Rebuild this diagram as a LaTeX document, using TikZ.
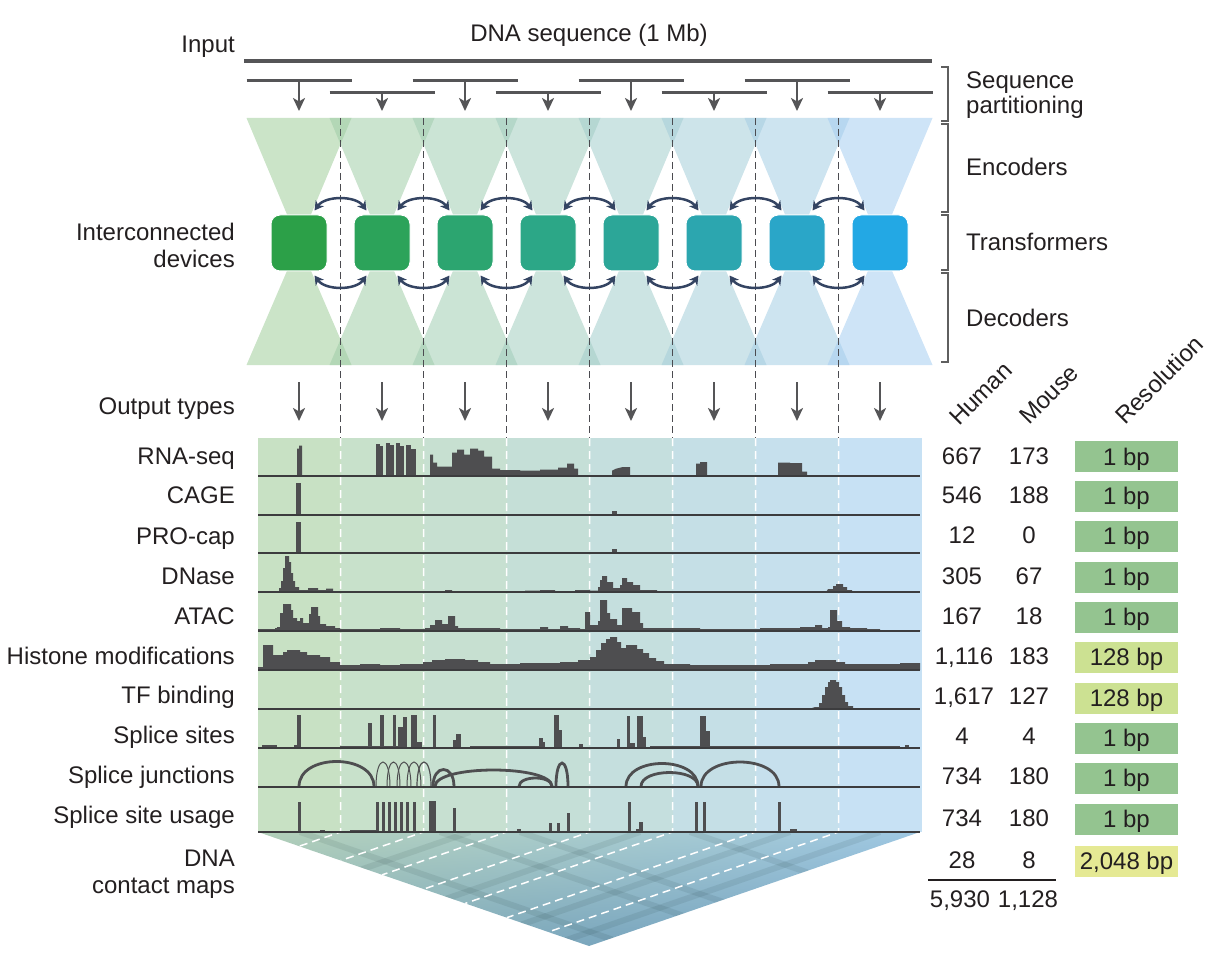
\documentclass[tikz,border=0pt]{standalone}
\usepackage{fontspec}
\setmainfont{Liberation Sans}
\usetikzlibrary{arrows.meta,shadings}
\definecolor{txt}{RGB}{35,31,32}
\definecolor{linec}{RGB}{85,85,87}
\definecolor{dashc}{RGB}{75,75,80}
\definecolor{navy}{RGB}{52,68,98}
\definecolor{sigc}{RGB}{78,78,80}
\definecolor{basec}{RGB}{60,60,62}
\definecolor{brc}{RGB}{95,95,95}
\definecolor{resG}{RGB}{148,196,144}
\definecolor{resY}{RGB}{204,225,146}
\definecolor{resYY}{RGB}{229,233,148}
\definecolor{mapUL}{RGB}{178,207,184}
\definecolor{mapUR}{RGB}{158,199,226}
\definecolor{mapLL}{RGB}{132,172,178}
\definecolor{mapLR}{RGB}{112,160,200}
\definecolor{dev0}{RGB}{44,160,72}
\definecolor{dev1}{RGB}{44,163,90}
\definecolor{dev2}{RGB}{44,165,112}
\definecolor{dev3}{RGB}{44,167,135}
\definecolor{dev4}{RGB}{44,166,152}
\definecolor{dev5}{RGB}{44,166,175}
\definecolor{dev6}{RGB}{42,166,200}
\definecolor{dev7}{RGB}{35,168,228}
\definecolor{tri0}{RGB}{160,205,155}
\definecolor{tri1}{RGB}{161,205,167}
\definecolor{tri2}{RGB}{161,205,179}
\definecolor{tri3}{RGB}{162,205,191}
\definecolor{tri4}{RGB}{163,205,204}
\definecolor{tri5}{RGB}{164,205,216}
\definecolor{tri6}{RGB}{164,205,228}
\definecolor{tri7}{RGB}{165,205,240}
\definecolor{pan0}{RGB}{200,225,196}
\definecolor{pan1}{RGB}{200,225,203}
\definecolor{pan2}{RGB}{199,224,209}
\definecolor{pan3}{RGB}{197,223,215}
\definecolor{pan4}{RGB}{197,223,222}
\definecolor{pan5}{RGB}{197,223,230}
\definecolor{pan6}{RGB}{198,224,237}
\definecolor{pan7}{RGB}{199,225,244}
\newcommand\sbar[3]{\fill[sigc] (#1,0) rectangle (#2,-#3);}
\newcommand\sarc[4]{\draw[sigc, line width=#4] (#1,0) .. controls (#1,-1.333*#3) and (#2,-1.333*#3) .. (#2,0);}
\begin{document}
\begin{tikzpicture}[x=1pt,y=-1pt,
  lab/.style={font=\fontsize{24}{28}\selectfont, text=txt, inner sep=0pt},
  device/.style={minimum size=56pt, rounded corners=9pt, draw=white, line width=1pt, inner sep=0pt},
  resbox/.style={minimum width=103pt, minimum height=31pt, inner sep=0pt, text height=17pt, text depth=0pt, font=\fontsize{24}{28}\selectfont, text=txt},
  parrow/.style={linec, line width=2.5pt, -{Stealth[length=13pt,width=12pt,inset=3.5pt]}},
  darrow/.style={navy, line width=2.5pt, {Stealth[length=9pt,width=10pt,inset=2.5pt]}-{Stealth[length=9pt,width=10pt,inset=2.5pt]}},
  bracket/.style={brc, line width=2pt}]
\useasboundingbox (0,0) rectangle (1226,968);

% ---------------- top: input sequence and partitioning
\node[lab, anchor=base] (dnaseq) at (589,41.5) {DNA sequence (1 Mb)};
\node[lab, anchor=base east] (input) at (235,52.5) {Input};
\draw[linec, line width=4pt] (244,61) -- (932,61);
\foreach \i in {0,...,7}{
  \pgfmathsetmacro\c{299+83*\i}
  \pgfmathsetmacro\yy{mod(\i,2)==0 ? 81 : 93}
  \draw[linec, line width=3pt] (\c-52.5,\yy) -- (\c+52.5,\yy);
  \coordinate (pa\i) at (\c,\yy);
  \coordinate (pb\i) at (\c,111);
  \draw[parrow] (pa\i) -- (pb\i);
}

% ---------------- encoders / decoders
\foreach \i in {0,...,7}{
  \pgfmathsetmacro\c{299+83*\i}
  \fill[fill=tri\i, fill opacity=0.55] (\c-52.5,118) -- (\c+52.5,118) -- (\c,243) -- cycle;
  \fill[fill=tri\i, fill opacity=0.55] (\c,243) -- (\c-52.5,365) -- (\c+52.5,365) -- cycle;
}
\foreach \j in {0,...,6}{
  \pgfmathsetmacro\b{340.5+83*\j}
  \draw[dashc, line width=1.5pt, dash pattern=on 7pt off 4pt] (\b,118) -- (\b,438);
}
\foreach \i in {0,...,7}{
  \pgfmathsetmacro\c{299+83*\i}
  \node[device, fill=dev\i] (dev\i) at (\c,243) {};
}
\foreach \i [evaluate=\i as \n using int(\i+1)] in {0,...,6}{
  \draw[darrow] ([shift={(-13,-4)}]dev\i.north east) .. controls +(11,-15) and +(-11,-15) .. ([shift={(13,-4)}]dev\n.north west);
  \draw[darrow] ([shift={(-13,4)}]dev\i.south east) .. controls +(11,15) and +(-11,15) .. ([shift={(13,4)}]dev\n.south west);
}
\node[lab, anchor=base east] (ic1) at (235,240.5) {Interconnected};
\node[lab, anchor=base east] (ic2) at (235,267.5) {devices};

% ---------------- right brackets
\draw[bracket] (941,67) -- (948,67) -- (948,121) -- (941,121);
\draw[bracket] (941,124) -- (948,124) -- (948,212) -- (941,212);
\draw[bracket] (941,215) -- (948,215) -- (948,270) -- (941,270);
\draw[bracket] (941,273) -- (948,273) -- (948,362) -- (941,362);
\node[lab, anchor=base west] (sp1) at (966,88.5) {Sequence};
\node[lab, anchor=base west] (sp2) at (966,114) {partitioning};
\node[lab, anchor=base west] (enc) at (966,175.5) {Encoders};
\node[lab, anchor=base west] (trf) at (966,250.5) {Transformers};
\node[lab, anchor=base west] (dec) at (966,326.5) {Decoders};

% ---------------- output types
\node[lab, anchor=base east] (otypes) at (235,414.5) {Output types};
\foreach \i in {0,...,7}{
  \pgfmathsetmacro\c{299+83*\i}
  \coordinate (oa\i) at (\c,382);
  \coordinate (ob\i) at (\c,421);
  \draw[parrow] (oa\i) -- (ob\i);
}

% ---------------- tracks panel
\foreach \i in {0,...,7}{
  \pgfmathsetmacro\c{299+83*\i}
  \fill[pan\i] (\c-41.5,438) rectangle (\c+41.5,832);
}

% contact map
\begin{scope}
  \clip (258,832) -- (920,832) -- (589,946) -- cycle;
  \shade[upper left=mapUL, upper right=mapUR, lower left=mapLL, lower right=mapLR] (258,832) rectangle (920,946);
  \begin{scope}[line width=6pt, draw=black!80!teal, opacity=0.08]
    \draw (300,832) -- +(331,114);
    \draw (440,832) -- +(331,114);
    \draw (520,832) -- +(331,114);
    \draw (690,832) -- +(331,114);
    \draw (470,832) -- +(-331,114);
    \draw (640,832) -- +(-331,114);
    \draw (790,832) -- +(-331,114);
    \draw (880,832) -- +(-331,114);
  \end{scope}
\end{scope}
\foreach \j in {0,...,6}{
  \pgfmathsetmacro\b{340.5+83*\j}
  \pgfmathsetmacro\ex{258+(\b-258)/2}
  \pgfmathsetmacro\ey{832+(\b-258)/662*114}
  \draw[white, line width=1.5pt, dash pattern=on 8pt off 5pt] (\b,438) -- (\b,832) -- (\ex,\ey);
}

% RNA-seq
\begin{scope}[shift={(0,475.7)}]
  \fill[sigc] (297,0) -- (297,-27) -- (299,-27) -- (299,-30) -- (302,-30) -- (302,0) -- cycle;
  \sbar{376}{380}{32}\sbar{380}{383}{30}\sbar{386}{390}{33}\sbar{390}{394}{31}
  \sbar{396}{400}{33}\sbar{400}{404}{30}\sbar{406}{411}{31}\sbar{411}{416}{27}
  \fill[sigc] (430,0) -- (430,-21) -- (433,-21) -- (433,-13) -- (437,-13) -- (437,-9) -- (452,-9) -- (452,-23) -- (457,-23) -- (457,-26) -- (464,-26) -- (464,-21) -- (470,-21) -- (470,-27) -- (478,-27) -- (478,-25) -- (484,-25) -- (484,-19) -- (492,-19) -- (492,-7) -- (500,-7) -- (500,-5.5) -- (520,-5.5) -- (520,-5) -- (540,-5) -- (540,-6) -- (558,-6) -- (558,-8) -- (567,-8) -- (567,-12) -- (574,-12) -- (574,-7) -- (578,-7) -- (578,0) -- cycle;
  \fill[sigc] (612,0) -- (612,-5) -- (616,-7) -- (622,-8.5) -- (630,-8.5) -- (630,0) -- cycle;
  \fill[sigc] (696,0) -- (696,-12) -- (700,-12) -- (700,-13.5) -- (707,-13.5) -- (707,0) -- cycle;
  \fill[sigc] (778,0) -- (778,-13) -- (790,-13) -- (790,-12.5) -- (802,-12.5) -- (802,-4) -- (807,-4) -- (807,0) -- cycle;
  \draw[basec, line width=2pt] (258,0) -- (920,0);
\end{scope}
\node[lab, anchor=base east] (l1) at (235,464.5) {RNA-seq};

% CAGE
\begin{scope}[shift={(0,514.5)}]
  \sbar{296}{300.5}{32}\sbar{612}{617}{4}
  \draw[basec, line width=2pt] (258,0) -- (920,0);
\end{scope}
\node[lab, anchor=base east] (l2) at (235,503.5) {CAGE};

% PRO-cap
\begin{scope}[shift={(0,553.3)}]
  \sbar{296}{300.5}{31}\sbar{612}{617}{4}
  \draw[basec, line width=2pt] (258,0) -- (920,0);
\end{scope}
\node[lab, anchor=base east] (l3) at (235,544.5) {PRO-cap};

% DNase
\begin{scope}[shift={(0,592.2)}]
  \fill[sigc] (275,0) -- (275,-1) -- (279,-1) -- (279,-4) -- (281,-4) -- (281,-11) -- (283,-11) -- (283,-24) -- (285,-24) -- (285,-36) -- (289,-36) -- (289,-30) -- (291,-30) -- (291,-19) -- (293,-19) -- (293,-11) -- (295,-11) -- (295,-5) -- (299,-5) -- (299,-2) -- (308,-2) -- (308,-4) -- (318,-4) -- (318,-2) -- (326,-2) -- (326,-3.5) -- (333,-3.5) -- (333,-1) -- (340,-1) -- (340,0) -- cycle;
  \fill[sigc] (430,0) -- (430,-1) -- (445,-1) -- (445,-2) -- (452,-2) -- (452,-1) -- (460,-1) -- (460,0) -- cycle;
  \fill[sigc] (525,0) -- (525,-1.5) -- (540,-1.5) -- (540,-2) -- (555,-2) -- (555,-1) -- (575,-1) -- (575,-2) -- (590,-2) -- (590,0) -- cycle;
  \fill[sigc] (585,0) -- (585,-1.5) -- (598,-1.5) -- (598,-5) -- (600,-5) -- (600,-12) -- (602,-12) -- (602,-16) -- (607,-16) -- (607,-10) -- (613,-10) -- (613,-4) -- (620,-4) -- (620,-7) -- (622,-7) -- (622,-14) -- (627,-14) -- (627,-10) -- (633,-10) -- (633,-7) -- (640,-7) -- (640,-2) -- (657,-2) -- (657,0) -- cycle;
  \fill[sigc] (826,0) -- (828,-3) -- (833,-3) -- (833,-6) -- (836,-6) -- (836,-8) -- (843,-8) -- (843,-5) -- (847,-5) -- (847,-2) -- (852,-2) -- (852,0) -- cycle;
  \draw[basec, line width=2pt] (258,0) -- (920,0);
\end{scope}
\node[lab, anchor=base east] (l4) at (235,584.5) {DNase};

% ATAC
\begin{scope}[shift={(0,631.2)}]
  \fill[sigc] (258,0) -- (258,-2) -- (275,-2) -- (275,-3) -- (340,-3) -- (340,-2) -- (380,-2) -- (380,-3) -- (400,-3) -- (400,-2) -- (425,-2) -- (425,-3) -- (500,-3) -- (500,-2) -- (540,-2) -- (540,-4) -- (548,-4) -- (548,-2) -- (560,-2) -- (560,-5) -- (568,-5) -- (568,-3) -- (580,-3) -- (580,-2) -- (660,-2) -- (660,-3) -- (700,-3) -- (700,-2) -- (760,-2) -- (760,-3) -- (800,-3) -- (800,-4) -- (815,-4) -- (815,-6) -- (822,-6) -- (822,-3) -- (860,-3) -- (860,-2) -- (880,-2) -- (880,-1) -- (920,-1) -- (920,0) -- cycle;
  \fill[sigc] (277,0) -- (277,-4) -- (280,-4) -- (280,-18) -- (283,-18) -- (283,-27) -- (291,-27) -- (291,-21) -- (293,-21) -- (293,-13) -- (297,-13) -- (297,-10) -- (300,-10) -- (300,-13) -- (303,-13) -- (303,-8) -- (309,-8) -- (309,-17) -- (311,-17) -- (311,-24) -- (318,-24) -- (318,-15) -- (320,-15) -- (320,-7) -- (326,-7) -- (326,-5) -- (335,-5) -- (335,0) -- cycle;
  \fill[sigc] (430,0) -- (430,-6) -- (435,-6) -- (435,-11) -- (442,-11) -- (442,-7) -- (448,-7) -- (448,-15) -- (455,-15) -- (455,-5) -- (458,-5) -- (458,0) -- cycle;
  \fill[sigc] (585,0) -- (585,-19) -- (590,-19) -- (590,-6) -- (598,-6) -- (598,-10) -- (600,-10) -- (600,-31) -- (607,-31) -- (607,-18) -- (610,-18) -- (610,-12) -- (617,-12) -- (617,-6) -- (622,-6) -- (622,-23) -- (632,-23) -- (632,-19) -- (640,-19) -- (640,-8) -- (643,-8) -- (643,-3) -- (665,-3) -- (665,0) -- cycle;
  \fill[sigc] (828,0) -- (828,-4) -- (830,-4) -- (830,-21) -- (837,-21) -- (837,-10) -- (842,-10) -- (842,-4) -- (850,-4) -- (850,-3) -- (867,-3) -- (867,0) -- cycle;
  \draw[basec, line width=2pt] (258,0) -- (920,0);
\end{scope}
\node[lab, anchor=base east] (l5) at (235,624.5) {ATAC};

% Histone modifications
\begin{scope}[shift={(0,670.2)}]
  \fill[sigc] (258,0) -- (258,-3) -- (263,-3) -- (263,-25) -- (273,-25) -- (273,-15) -- (283,-15) -- (283,-18) -- (287,-18) -- (287,-20) -- (300,-20) -- (300,-18) -- (307,-18) -- (307,-15) -- (320,-15) -- (320,-13) -- (330,-13) -- (330,-8) -- (340,-8) -- (340,-5) -- (360,-5) -- (360,-6) -- (380,-6) -- (380,-5) -- (400,-5) -- (400,-6) -- (423,-6) -- (423,-8) -- (432,-8) -- (432,-10) -- (445,-10) -- (445,-11) -- (465,-11) -- (465,-10) -- (478,-10) -- (478,-8) -- (490,-8) -- (490,-6) -- (520,-6) -- (520,-7) -- (560,-7) -- (560,-8) -- (578,-8) -- (578,-10) -- (590,-10) -- (590,-13) -- (596,-13) -- (596,-20) -- (601,-20) -- (601,-27) -- (606,-27) -- (606,-31) -- (610,-31) -- (610,-33) -- (617,-33) -- (617,-28) -- (621,-28) -- (621,-22) -- (626,-22) -- (626,-25) -- (637,-25) -- (637,-21) -- (643,-21) -- (643,-17) -- (649,-17) -- (649,-12) -- (656,-12) -- (656,-9) -- (664,-9) -- (664,-6) -- (690,-6) -- (690,-5) -- (770,-5) -- (770,-6) -- (808,-6) -- (808,-8) -- (815,-8) -- (815,-10) -- (836,-10) -- (836,-8) -- (845,-8) -- (845,-6) -- (900,-6) -- (900,-7) -- (920,-7) -- (920,0) -- cycle;
  \draw[basec, line width=2pt] (258,0) -- (920,0);
\end{scope}
\node[lab, anchor=base east] (l6) at (235,664.5) {Histone modifications};

% TF binding
\begin{scope}[shift={(0,709)}]
  \sbar{290}{340}{1.5}\sbar{523}{600}{1.2}\sbar{600}{670}{1.5}
  \fill[sigc] (795,0) -- (795,-1) -- (812,-1) -- (815,-2) -- (819,-2) -- (819,-6) -- (822,-6) -- (822,-14) -- (825,-14) -- (825,-22) -- (828,-22) -- (828,-27) -- (830,-27) -- (830,-29) -- (836,-29) -- (836,-27) -- (839,-27) -- (839,-22) -- (842,-22) -- (842,-14) -- (845,-14) -- (845,-7) -- (848,-7) -- (848,-3) -- (853,-3) -- (853,0) -- cycle;
  \draw[basec, line width=2pt] (258,0) -- (920,0);
\end{scope}
\node[lab, anchor=base east] (l7) at (235,703.5) {TF binding};

% Splice sites
\begin{scope}[shift={(0,747.5)}]
  \sbar{262}{277}{2.5}\sbar{297}{300.5}{33}\sbar{294}{297}{3}
  \sbar{368}{372}{24.5}\sbar{380}{383.5}{32.5}\sbar{393}{396}{32.5}
  \sbar{398}{405}{21}\sbar{403}{406.5}{31}\sbar{411}{417}{32.5}\sbar{417}{422}{6}
  \sbar{433}{436}{32.5}\sbar{453}{457}{7.5}\sbar{456}{461}{13.5}
  \sbar{539}{543}{10}\sbar{543}{545}{6}\sbar{554}{559}{32.5}\sbar{559}{562}{17.5}
  \sbar{579}{583}{4}\sbar{617}{620}{8.5}\sbar{627}{630}{32}\sbar{630}{635}{5}
  \sbar{637}{643}{32}\sbar{642}{646}{11}\sbar{700}{706}{32}\sbar{705}{710}{17}
  \sbar{340}{400}{1.2}\sbar{470}{540}{1.2}\sbar{650}{900}{1.2}\sbar{905}{909}{3}
  \draw[basec, line width=2pt] (258,0) -- (920,0);
\end{scope}
\node[lab, anchor=base east] (l8) at (235,743.5) {Splice sites};

% Splice junctions
\begin{scope}[shift={(0,786.5)}]
  \sarc{299}{374}{25}{2.8pt}
  \sarc{376}{390}{24.5}{1pt}\sarc{387}{400}{24.5}{1pt}\sarc{397}{411}{24.5}{1pt}
  \sarc{407}{421}{24.5}{1pt}\sarc{417}{431}{24.5}{1.2pt}
  \sarc{433}{454}{17}{2.8pt}\sarc{435}{552}{16.5}{2.8pt}\sarc{519}{552}{8.5}{2.8pt}
  \sarc{556}{568}{23.5}{2.8pt}
  \sarc{626}{698}{23}{2.8pt}\sarc{641}{698}{14}{2.8pt}\sarc{701}{779}{24.5}{2.8pt}
  \draw[basec, line width=2pt] (258,0) -- (920,0);
\end{scope}
\node[lab, anchor=base east] (l9) at (235,783.5) {Splice junctions};

% Splice site usage
\begin{scope}[shift={(0,831.5)}]
  \sbar{298}{301}{30}\sbar{320}{325}{2}\sbar{350}{376}{1.5}
  \sbar{376}{378.5}{30}\sbar{382}{384.5}{30}\sbar{388}{390.5}{30}\sbar{394}{396.5}{30}
  \sbar{400}{402.5}{30}\sbar{406}{408.5}{30}\sbar{413}{415.5}{30}
  \sbar{429}{436}{31}\sbar{453}{456}{24}\sbar{517}{521}{2.5}
  \sbar{549}{552}{8.5}\sbar{557}{559.5}{8.5}\sbar{567}{570}{18.5}
  \sbar{628}{630.5}{30}\sbar{636}{639}{3}\sbar{639}{643}{9.5}
  \sbar{695}{697.5}{30}\sbar{703}{706}{30}\sbar{778}{781}{30}\sbar{790}{797}{2.5}
  \draw[basec, line width=2pt] (258,0) -- (920,0);
\end{scope}
\node[lab, anchor=base east] (l10) at (235,823.5) {Splice site usage};
\node[lab, anchor=base east] (l11a) at (235,866.5) {DNA};
\node[lab, anchor=base east] (l11b) at (235,893.5) {contact maps};

% ---------------- right table
\node[lab, anchor=base west, rotate=45] (hHuman) at (959,427) {Human};
\node[lab, anchor=base west, rotate=45] (hMouse) at (1029,426) {Mouse};
\node[lab, anchor=base west, rotate=45] (hRes) at (1125,426) {Resolution};

\node[lab, anchor=base] (h1) at (962,464.5) {667};
\node[lab, anchor=base] (h2) at (962,503.5) {546};
\node[lab, anchor=base] (h3) at (962,543.5) {12};
\node[lab, anchor=base] (h4) at (962,584.5) {305};
\node[lab, anchor=base] (h5) at (962,624.5) {167};
\node[lab, anchor=base] (h6) at (964,664.5) {1,116};
\node[lab, anchor=base] (h7) at (964,704.5) {1,617};
\node[lab, anchor=base] (h8) at (962,744.5) {4};
\node[lab, anchor=base] (h9) at (962,784.5) {734};
\node[lab, anchor=base] (h10) at (962,826.5) {734};
\node[lab, anchor=base] (h11) at (962,868.5) {28};
\node[lab, anchor=base] (m1) at (1029,464.5) {173};
\node[lab, anchor=base] (m2) at (1029,503.5) {188};
\node[lab, anchor=base] (m3) at (1029,543.5) {0};
\node[lab, anchor=base] (m4) at (1029,584.5) {67};
\node[lab, anchor=base] (m5) at (1029,624.5) {18};
\node[lab, anchor=base] (m6) at (1029,664.5) {183};
\node[lab, anchor=base] (m7) at (1029,704.5) {127};
\node[lab, anchor=base] (m8) at (1029,744.5) {4};
\node[lab, anchor=base] (m9) at (1029,784.5) {180};
\node[lab, anchor=base] (m10) at (1029,826.5) {180};
\node[lab, anchor=base] (m11) at (1029,868.5) {8};
\coordinate (tl) at (928,880);
\coordinate (tr) at (1056,880);
\draw[txt, line width=1.3pt] (tl) -- (tr);
\node[lab, anchor=base] (ht) at (960,907.5) {5,930};
\node[lab, anchor=base] (mt) at (1028,907.5) {1,128};

\node[resbox, fill=resG] (r1) at (1126.5,456.5) {1 bp};
\node[resbox, fill=resG] (r2) at (1126.5,496) {1 bp};
\node[resbox, fill=resG] (r3) at (1126.5,536) {1 bp};
\node[resbox, fill=resG] (r4) at (1126.5,577) {1 bp};
\node[resbox, fill=resG] (r5) at (1126.5,617) {1 bp};
\node[resbox, fill=resY] (r6) at (1126.5,657) {128 bp};
\node[resbox, fill=resY] (r7) at (1126.5,698) {128 bp};
\node[resbox, fill=resG] (r8) at (1126.5,738) {1 bp};
\node[resbox, fill=resG] (r9) at (1126.5,778) {1 bp};
\node[resbox, fill=resG] (r10) at (1126.5,819) {1 bp};
\node[resbox, fill=resYY] (r11) at (1126.5,861) {2,048 bp};
\end{tikzpicture}
\end{document}
